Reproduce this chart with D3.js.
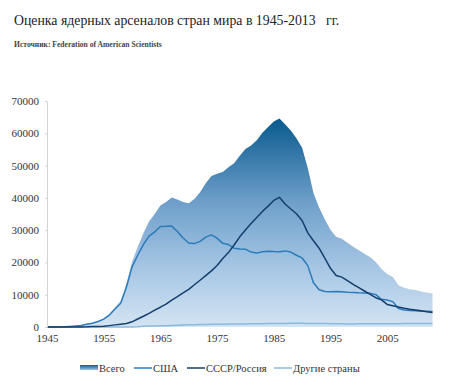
<!DOCTYPE html>
<html>
<head>
<meta charset="utf-8">
<script src="https://cdn.jsdelivr.net/npm/d3@7"></script>
<style>
  body { margin: 0; background: #fff; }
  svg { display: block; font-family: 'Liberation Serif', 'DejaVu Serif', serif; }
</style>
</head>
<body>
<svg id="chart" width="454" height="387"></svg>
<script>
// data (FAS estimates)
const years = d3.range(1945, 2014);

const usa = [2, 9, 13, 50, 170, 299, 438, 841, 1169, 1703,
  2422, 3692, 5543, 7345, 12298, 18638, 22229, 25540, 28133, 29463,
  31139, 31175, 31255, 29561, 27552, 26008, 25830, 26516, 27835, 28537,
  27519, 25914, 25542, 24418, 24138, 24104, 23208, 22886, 23305, 23459,
  23368, 23317, 23575, 23205, 22217, 21392, 19008, 13708, 11511, 10979,
  10904, 11011, 10903, 10732, 10685, 10577, 10526, 10457, 10027, 8570,
  8360, 7853, 5709, 5273, 5113, 5066, 4897, 4881, 4804];

const ussr = [0, 0, 0, 0, 1, 5, 25, 50, 120, 150,
  200, 426, 660, 869, 1060, 1605, 2471, 3322, 4238, 5221,
  6129, 7089, 8339, 9399, 10538, 11643, 13092, 14478, 15915, 17385,
  19055, 21205, 23044, 25393, 27935, 30062, 32049, 33952, 35804, 37431,
  39197, 40159, 38107, 36538, 35078, 32980, 29154, 26734, 24403, 21339,
  18179, 15942, 15442, 14368, 13188, 12188, 11152, 10114, 9076, 8400,
  7000, 6600, 6200, 5800, 5500, 5300, 5000, 4700, 4500];

const others = [0, 0, 0, 0, 0, 0, 0, 1, 1, 5,
  10, 15, 20, 22, 25, 30, 50, 200, 280, 310,
  360, 420, 500, 560, 620, 680, 720, 760, 800, 850,
  870, 880, 900, 920, 940, 960, 980, 1000, 1020, 1050,
  1080, 1100, 1120, 1150, 1150, 1150, 1120, 1100, 1080, 1060,
  1040, 1000, 980, 960, 960, 980, 1000, 1000, 1000, 1020,
  1020, 1030, 1040, 1050, 1060, 1070, 1080, 1090, 1100];

const total = [2, 9, 13, 50, 171, 304, 463, 892, 1290, 1858,
  2632, 4133, 6223, 8236, 13383, 20273, 24750, 29062, 32651, 34994,
  37628, 38684, 40094, 39520, 38710, 38331, 39642, 41754, 44550, 46772,
  47444, 47999, 49486, 50731, 53013, 55126, 56237, 57838, 60129, 61940,
  63645, 64576, 62802, 60893, 58445, 55522, 49282, 41542, 36994, 33378,
  30123, 27953, 27325, 26060, 24833, 23745, 22678, 21571, 20103, 17990,
  16380, 15483, 12949, 12123, 11673, 11436, 10977, 10671, 10404];

const xTicks = [1945, 1955, 1965, 1975, 1985, 1995, 2005];
const yTicks = [0, 10000, 20000, 30000, 40000, 50000, 60000, 70000];

const titleText = 'Оценка ядерных арсеналов стран мира в 1945-2013\u00a0\u00a0 гг.';
const sourceText = 'Источник: Federation of American Scientists';

const colors = {
  usa: '#2b7bba',
  ussr: '#143f6c',
  others: '#8ab9df'
};

const svg = d3.select('#chart');

// scales
const x = d3.scaleLinear().domain([1945, 2013]).range([47, 432.5]);
const y = d3.scaleLinear().domain([0, 70000]).range([327, 101]);

// gradient for the total area
const defs = svg.append('defs');
const grad = defs.append('linearGradient')
  .attr('id', 'totalGrad')
  .attr('gradientUnits', 'userSpaceOnUse')
  .attr('x1', 0).attr('x2', 0)
  .attr('y1', y(64576)).attr('y2', y(0));
grad.append('stop').attr('offset', '0%').attr('stop-color', '#095a8e');
grad.append('stop').attr('offset', '40%').attr('stop-color', '#6e9fca');
grad.append('stop').attr('offset', '70%').attr('stop-color', '#a3c4e3');
grad.append('stop').attr('offset', '100%').attr('stop-color', '#d3e4f3');

const legGrad = defs.append('linearGradient')
  .attr('id', 'legGrad')
  .attr('x1', 0).attr('x2', 0).attr('y1', 0).attr('y2', 1);
legGrad.append('stop').attr('offset', '0%').attr('stop-color', '#0d5d91');
legGrad.append('stop').attr('offset', '100%').attr('stop-color', '#9fc2e2');

// title
svg.append('text')
  .attr('x', 14).attr('y', 25)
  .attr('font-size', 13.8)
  .attr('fill', '#222')
  .text(titleText);

svg.append('text')
  .attr('x', 14).attr('y', 47)
  .attr('font-size', 7.6)
  .attr('font-weight', 'bold')
  .attr('fill', '#444')
  .text(sourceText);

// total area
const area = d3.area()
  .x((d, i) => x(years[i]))
  .y0(y(0))
  .y1(d => y(d));

svg.append('path')
  .datum(total)
  .attr('d', area)
  .attr('fill', 'url(#totalGrad)');

// lines
const line = d3.line()
  .x((d, i) => x(years[i]))
  .y(d => y(d));

[['others', others], ['usa', usa], ['ussr', ussr]].forEach(([key, vals]) => {
  svg.append('path')
    .datum(vals)
    .attr('d', line)
    .attr('fill', 'none')
    .attr('stroke', colors[key])
    .attr('stroke-width', 1.5)
    .attr('stroke-linejoin', 'round');
});

// y axis
const yAxis = svg.append('g')
  .attr('transform', `translate(${x(1945)},0)`)
  .call(d3.axisLeft(y).tickValues(yTicks).tickSize(2).tickPadding(6).tickFormat(d3.format('d')));
yAxis.attr('font-family', null);
yAxis.select('.domain').attr('stroke', '#d4d4d4');
yAxis.selectAll('.tick line').attr('stroke', '#d4d4d4');
yAxis.selectAll('text')
  .attr('font-size', 11)
  .attr('fill', '#333');

// x axis
const xAxis = svg.append('g')
  .attr('transform', `translate(0,${y(0)})`)
  .call(d3.axisBottom(x).tickValues(xTicks).tickSize(0).tickPadding(7).tickFormat(d3.format('d')));
xAxis.attr('font-family', null);
xAxis.select('.domain').remove();
xAxis.selectAll('text')
  .attr('font-size', 11)
  .attr('fill', '#333');

// legend
const legendItems = [
  { label: 'Всего', key: 'total', x: 80 },
  { label: 'США', key: 'usa', x: 134 },
  { label: 'СССР/Россия', key: 'ussr', x: 187 },
  { label: 'Другие страны', key: 'others', x: 274 }
];
const ly = 368;
const leg = svg.append('g');
legendItems.forEach(item => {
  if (item.key === 'total') {
    leg.append('rect')
      .attr('x', item.x).attr('y', ly - 3)
      .attr('width', 18).attr('height', 5)
      .attr('fill', 'url(#legGrad)');
  } else {
    leg.append('line')
      .attr('x1', item.x).attr('x2', item.x + 18)
      .attr('y1', ly).attr('y2', ly)
      .attr('stroke', colors[item.key])
      .attr('stroke-width', 1.5);
  }
  leg.append('text')
    .attr('x', item.x + 19).attr('y', ly + 3.5)
    .attr('font-size', 10.5)
    .attr('fill', '#333')
    .text(item.label);
});
</script>
</body>
</html>
